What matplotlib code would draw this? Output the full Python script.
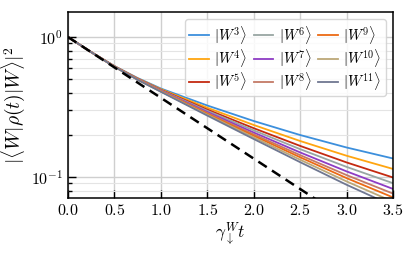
import matplotlib
matplotlib.use("Agg")
import matplotlib.pyplot as plt
import numpy as np
from matplotlib.ticker import LogLocator, NullFormatter, MultipleLocator

plt.rcParams["font.family"] = "serif"
plt.rcParams["font.serif"] = ["cmr10"]
plt.rcParams["mathtext.fontset"] = "cm"
plt.rcParams["axes.formatter.use_mathtext"] = True
plt.rcParams["axes.unicode_minus"] = False

# ---------------------------------------------------------------------------
# Data (fidelity vs. gamma t)
# ---------------------------------------------------------------------------
t = [0.0, 0.25, 0.5, 0.75, 1.0, 1.5, 2.0, 2.5, 3.0, 3.5]

w3 = [1.0, 0.7814, 0.6206, 0.5095, 0.4287, 0.3242, 0.2512, 0.1995, 0.1625, 0.1356]
w4 = [1.0, 0.7808, 0.6188, 0.5062, 0.4237, 0.3125, 0.2353, 0.1808, 0.1419, 0.1142]
w5 = [1.0, 0.7804, 0.6174, 0.5035, 0.4197, 0.3033, 0.2232, 0.1668, 0.1271, 0.0992]
w6 = [1.0, 0.7801, 0.6164, 0.5018, 0.4169, 0.2973, 0.2154, 0.1581, 0.1181, 0.0903]
w7 = [1.0, 0.7798, 0.6154, 0.5000, 0.4142, 0.2914, 0.2079, 0.1498, 0.1097, 0.0822]
w8 = [1.0, 0.7796, 0.6146, 0.4985, 0.4120, 0.2866, 0.2018, 0.1433, 0.1032, 0.0761]
w9 = [1.0, 0.7794, 0.6140, 0.4973, 0.4102, 0.2828, 0.1971, 0.1383, 0.0982, 0.0715]
w10 = [1.0, 0.7791, 0.6132, 0.4959, 0.4081, 0.2786, 0.1919, 0.1328, 0.0930, 0.0666]
w11 = [1.0, 0.7789, 0.6125, 0.4946, 0.4061, 0.2746, 0.1868, 0.1276, 0.0880, 0.0621]

# reference decay (dashed)
t_ref = [0.0, 3.5]
ref = [1.0, 0.0302]

series = [w3, w4, w5, w6, w7, w8, w9, w10, w11]
labels = [r"$|W^{%d}\rangle$" % n for n in range(3, 12)]
colors = ["#3c8fdc", "#ffa510", "#c42a10", "#98a6a3", "#8e3cc4",
          "#c47a66", "#ec6a14", "#bca878", "#6f7791"]

# ---------------------------------------------------------------------------
# Plot
# ---------------------------------------------------------------------------
fig = plt.figure(figsize=(4.15, 2.58), dpi=100)
ax = fig.add_axes([0.1639, 0.2326, 0.7831, 0.7209])

for y, lab, c in zip(series, labels, colors):
    ax.plot(t, y, color=c, lw=1.3, label=lab)
ax.plot(t_ref, ref, color="black", lw=1.8, ls=(0, (4, 2.5)))

ax.set_yscale("log")
ax.set_xlim(0, 3.5)
ax.set_ylim(0.0708, 1.51)
ax.xaxis.set_major_locator(MultipleLocator(0.5))
ax.yaxis.set_major_locator(LogLocator(base=10))
ax.yaxis.set_minor_locator(LogLocator(base=10, subs=np.arange(2, 10)))
ax.yaxis.set_minor_formatter(NullFormatter())

ax.grid(True, which="major", axis="both", color="#cfcfcf", lw=1.0)
ax.grid(True, which="minor", axis="y", color="#e4e4e4", lw=0.8)
ax.set_axisbelow(True)

ax.tick_params(which="both", direction="in", labelsize=11.5, width=1.0)
ax.tick_params(which="major", length=5.5)
ax.tick_params(which="minor", length=3)
for s in ax.spines.values():
    s.set_linewidth(1.1)

ax.set_xlabel(r"$\gamma_\downarrow^W t$", fontsize=12.5, labelpad=2)
ax.set_ylabel(r"$|\langle W|\rho(t)|W\rangle|^2$", fontsize=14, labelpad=3)

ax.legend(ncol=3, loc="upper right", fontsize=10.5, handlelength=1.35,
          handletextpad=0.35, columnspacing=0.45, labelspacing=0.08,
          borderpad=0.3, borderaxespad=0.5, framealpha=0.85,
          edgecolor="#d0d0d0")

fig.savefig("out.png", dpi=100)
